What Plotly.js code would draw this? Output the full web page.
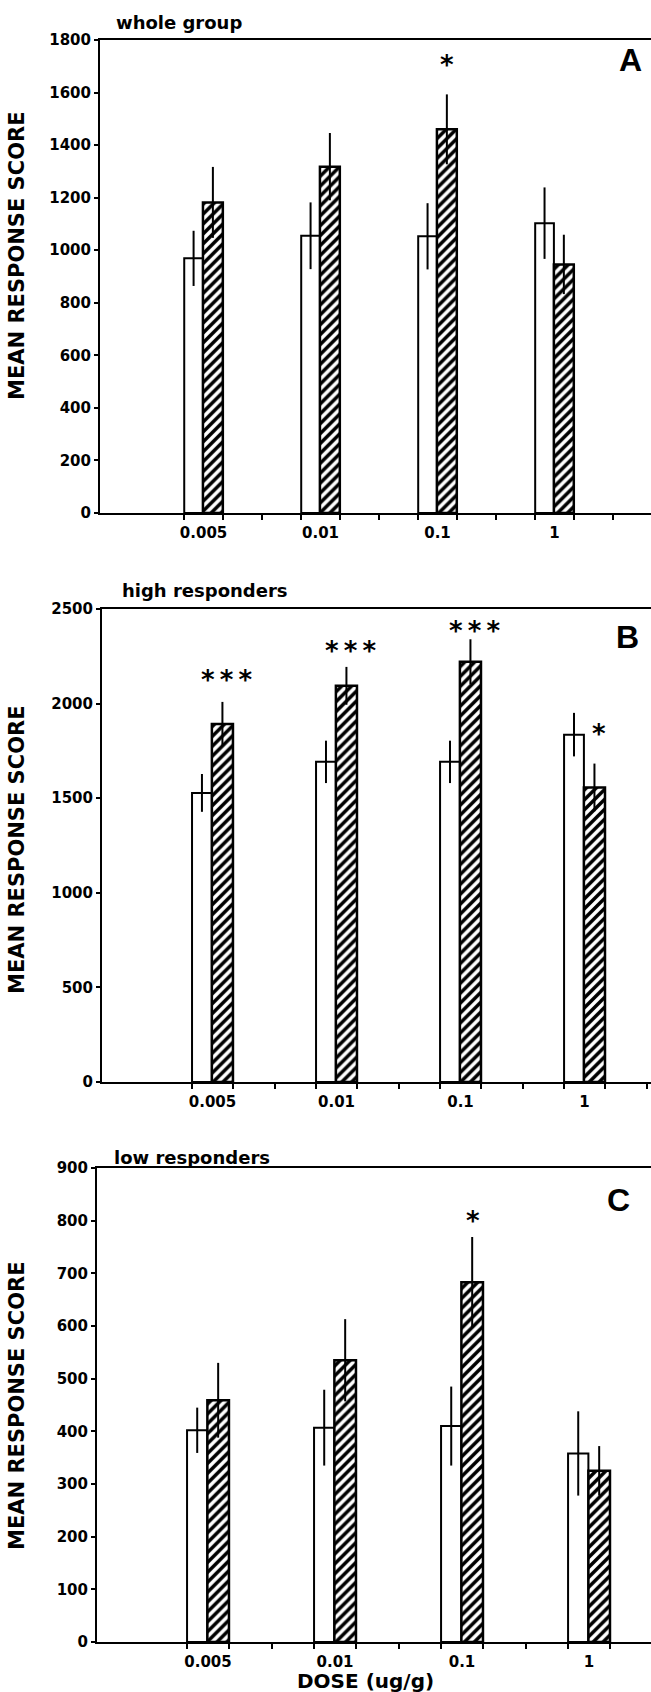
<!DOCTYPE html>
<html>
<head>
<meta charset="utf-8">
<script src="https://cdn.plot.ly/plotly-3.0.1.min.js"></script>
<style>
  html, body { margin: 0; padding: 0; background: #fff; }
  #chart { width: 651px; height: 1692px; }
</style>
</head>
<body>
<div id="chart"></div>
<script>
// ---------------- data ----------------
const doses = ['0.005', '0.01', '0.1', '1'];

const wholeControl    = [969, 1055, 1053, 1103];
const wholeControlErr = [105, 127, 126, 136];
const wholeTreated    = [1182, 1318, 1460, 946];
const wholeTreatedErr = [135, 128, 133, 113];
const wholeStars      = ['', '', '*', ''];
const wholeStarY      = [null, null, 1728, null];

const highControl    = [1528, 1692, 1692, 1836];
const highControlErr = [100, 112, 112, 115];
const highTreated    = [1892, 2094, 2221, 1557];
const highTreatedErr = [117, 100, 119, 126];
const highStars      = ['***', '***', '***', '*'];
const highStarY      = [2156, 2310, 2418, 1871];

const lowControl    = [402, 407, 410, 358];
const lowControlErr = [43, 72, 75, 80];
const lowTreated    = [459, 535, 683, 325];
const lowTreatedErr = [71, 78, 86, 47];
const lowStars      = ['', '', '*', ''];
const lowStarY      = [null, null, 810, null];

const panelTitles  = ['whole group', 'high responders', 'low responders'];
const panelLetters = ['A', 'B', 'C'];
const yMax   = [1800, 2500, 900];
const yDtick = [200, 500, 100];

// ---------------- layout geometry (pixels) ----------------
const W = 651, H = 1692;
const geo = [
  {left: 100, top: 40,   bottom: 513,  xr: [-0.885, 3.825], starDx: 0.085,
   titleX: 114, titleY: 23,   letterX: 630, letterY: 60,   yTitleY: 256},
  {left: 102, top: 609,  bottom: 1082, xr: [-0.891, 3.536], starDx: 0.12,
   titleX: 120, titleY: 590,  letterX: 627, letterY: 637,  yTitleY: 850},
  {left: 97,  top: 1168, bottom: 1642, xr: [-0.874, 3.488], starDx: 0.085,
   titleX: 112, titleY: 1157, letterX: 618, letterY: 1200, yTitleY: 1406}
];

const panels = [
  {ctl: wholeControl, ctlE: wholeControlErr, trt: wholeTreated, trtE: wholeTreatedErr, stars: wholeStars, starY: wholeStarY},
  {ctl: highControl,  ctlE: highControlErr,  trt: highTreated,  trtE: highTreatedErr,  stars: highStars,  starY: highStarY},
  {ctl: lowControl,   ctlE: lowControlErr,   trt: lowTreated,   trtE: lowTreatedErr,   stars: lowStars,   starY: lowStarY}
];

const FONT = 'DejaVu Sans, Arial, sans-serif';
const xs = doses.map((d, i) => i);

const traces = [];
const annotations = [];
const layout = {
  width: W, height: H,
  margin: {l: 0, r: 0, t: 0, b: 0},
  paper_bgcolor: '#fff', plot_bgcolor: '#fff',
  showlegend: false,
  barmode: 'overlay',
  font: {family: FONT, color: '#000'}
};

panels.forEach((p, k) => {
  const g = geo[k];
  const sfx = k === 0 ? '' : String(k + 1);
  const xa = 'x' + sfx, ya = 'y' + sfx;

  traces.push({
    type: 'bar', x: xs, y: p.ctl, xaxis: xa, yaxis: ya,
    width: 0.16, offset: -0.165,
    marker: {color: '#fff', line: {color: '#000', width: 2}},
    error_y: {type: 'data', array: p.ctlE, visible: true, color: '#000', thickness: 2, width: 0},
    hoverinfo: 'skip'
  });
  traces.push({
    type: 'bar', x: xs, y: p.trt, xaxis: xa, yaxis: ya,
    width: 0.17, offset: -0.005,
    marker: {color: '#fff', line: {color: '#000', width: 2.5},
             pattern: {shape: '/', fgcolor: '#000', bgcolor: '#fff', size: 7, solidity: 0.5}},
    error_y: {type: 'data', array: p.trtE, visible: true, color: '#000', thickness: 2, width: 0},
    hoverinfo: 'skip'
  });

  // minor tick positions at group edges, every third of a group spacing
  const minorVals = [];
  for (let v = -1 / 6; v < g.xr[1]; v += 1 / 3) minorVals.push(v);

  layout['xaxis' + sfx] = {
    domain: [g.left / W, 1],
    anchor: ya,
    range: g.xr,
    showgrid: false, zeroline: false,
    showline: true, linecolor: '#000', linewidth: 2, mirror: true,
    tickmode: 'array', tickvals: xs, ticktext: doses,
    ticks: 'outside', ticklen: 5, tickcolor: 'rgba(0,0,0,0)',
    tickfont: {family: FONT, size: 15, weight: 'bold', color: '#000'},
    minor: {tickmode: 'array', tickvals: minorVals, ticks: 'outside', ticklen: 5, tickwidth: 2, tickcolor: '#000', showgrid: false},
    fixedrange: true
  };
  layout['yaxis' + sfx] = {
    domain: [1 - g.bottom / H, 1 - g.top / H],
    anchor: xa,
    range: [0, yMax[k]],
    dtick: yDtick[k], tick0: 0,
    showgrid: false, zeroline: false,
    showline: true, linecolor: '#000', linewidth: 2,
    ticks: 'outside', ticklen: 4, tickwidth: 2, tickcolor: '#000',
    tickfont: {family: FONT, size: 15, weight: 'bold', color: '#000'},
    fixedrange: true
  };

  // panel title
  annotations.push({
    xref: 'paper', yref: 'paper', x: g.titleX / W, y: 1 - g.titleY / H,
    xanchor: 'left', yanchor: 'middle', showarrow: false,
    text: panelTitles[k], font: {family: FONT, size: 18, weight: 'bold', color: '#000'}
  });
  // panel letter
  annotations.push({
    xref: 'paper', yref: 'paper', x: g.letterX / W, y: 1 - g.letterY / H,
    xanchor: 'center', yanchor: 'middle', showarrow: false,
    text: panelLetters[k], font: {family: 'Liberation Sans, Arial, sans-serif', size: 32, weight: 'bold', color: '#000'}
  });
  // y axis title
  annotations.push({
    xref: 'paper', yref: 'paper', x: 17 / W, y: 1 - g.yTitleY / H,
    xanchor: 'center', yanchor: 'middle', showarrow: false, textangle: -90,
    text: 'MEAN RESPONSE SCORE', font: {family: FONT, size: 21, weight: 'bold', color: '#000'}
  });
  // significance stars
  p.stars.forEach((s, i) => {
    if (!s) return;
    annotations.push({
      xref: xa, yref: ya, x: i + g.starDx, y: p.starY[i],
      xanchor: 'center', yanchor: 'middle', showarrow: false, yshift: -6,
      text: s.split('').join('\u2009'),
      font: {family: FONT, size: 26, weight: 'bold', color: '#000'}
    });
  });
});

// x axis title (bottom panel only)
annotations.push({
  xref: 'paper', yref: 'paper', x: 365 / W, y: 1 - 1681 / H,
  xanchor: 'center', yanchor: 'middle', showarrow: false,
  text: 'DOSE (ug/g)', font: {family: FONT, size: 20, weight: 'bold', color: '#000'}
});

layout.annotations = annotations;

Plotly.newPlot('chart', traces, layout, {staticPlot: true, displayModeBar: false});
</script>
</body>
</html>
